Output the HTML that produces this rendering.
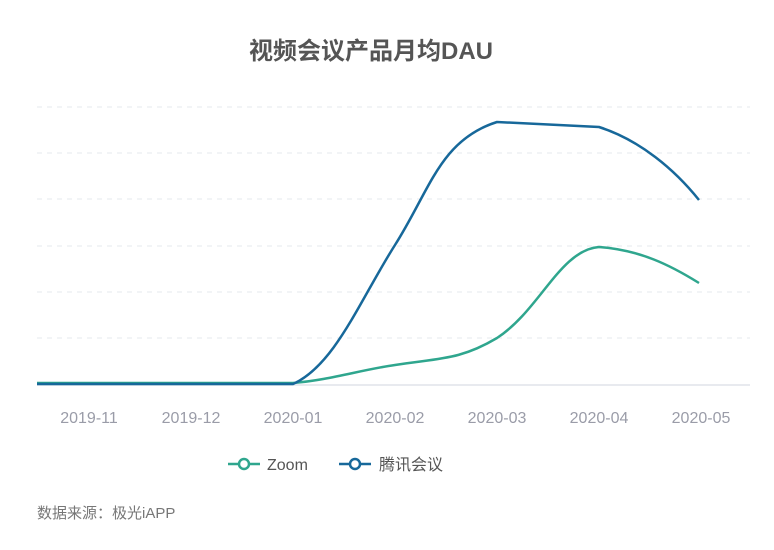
<!DOCTYPE html>
<html><head><meta charset="utf-8"><style>
body{margin:0;background:#fff;width:774px;height:545px;overflow:hidden;font-family:"Liberation Sans","Noto Sans CJK SC",sans-serif}
</style></head><body>
<svg width="774" height="545" xmlns="http://www.w3.org/2000/svg" font-family="Liberation Sans, Noto Sans CJK SC, sans-serif">
<text x="371" y="59" text-anchor="middle" font-size="24" font-weight="bold" fill="#555">视频会议产品月均DAU</text>
<g stroke="#e6e8ee" stroke-width="1" stroke-dasharray="5,5">
<line x1="37" y1="107" x2="750" y2="107"/><line x1="37" y1="153" x2="750" y2="153"/>
<line x1="37" y1="199" x2="750" y2="199"/><line x1="37" y1="246" x2="750" y2="246"/>
<line x1="37" y1="292" x2="750" y2="292"/><line x1="37" y1="338" x2="750" y2="338"/>
</g>
<line x1="37" y1="385" x2="750" y2="385" stroke="#e0e3ea" stroke-width="1.5"/>
<g font-size="16" fill="#9a9ca8" text-anchor="middle">
<text x="89" y="423">2019-11</text><text x="191" y="423">2019-12</text><text x="293" y="423">2020-01</text>
<text x="395" y="423">2020-02</text><text x="497" y="423">2020-03</text><text x="599" y="423">2020-04</text><text x="701" y="423">2020-05</text>
</g>
<path d="M37,383 L293,383 C330,380 360,370 395,365 C440,358 460,360 497,338 C540,310 560,250 599,247 C640,250 670,265 699,283" fill="none" stroke="#2fa68e" stroke-width="2.5"/>
<path d="M37,384 L293,384 C335,365 360,300 395,245 C430,190 440,140 497,122 L599,127 C640,140 675,170 699,200" fill="none" stroke="#17689a" stroke-width="2.5"/>
<g>
<line x1="228" y1="464" x2="260" y2="464" stroke="#2fa68e" stroke-width="2.5"/>
<circle cx="244" cy="464" r="5" fill="#fff" stroke="#2fa68e" stroke-width="2.5"/>
<text x="267" y="470" font-size="16" fill="#555">Zoom</text>
<line x1="339" y1="464" x2="371" y2="464" stroke="#17689a" stroke-width="2.5"/>
<circle cx="355" cy="464" r="5" fill="#fff" stroke="#17689a" stroke-width="2.5"/>
<text x="379" y="470" font-size="16" fill="#555">腾讯会议</text>
</g>
<text x="37" y="518" font-size="15" fill="#777">数据来源：极光iAPP</text>
</svg>
</body></html>
